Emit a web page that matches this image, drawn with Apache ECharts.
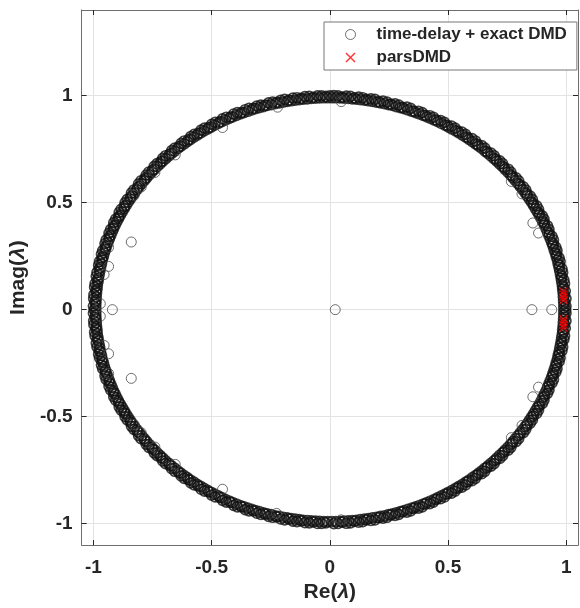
<!DOCTYPE html>
<html><head><meta charset="utf-8">
<script src="https://cdn.jsdelivr.net/npm/echarts@6/dist/echarts.min.js"></script>
<style>html,body{margin:0;padding:0;background:#fff}#c{width:580px;height:608px}</style>
</head><body><div id="c"></div>
<script>
// Tick values
const xTicks = [-1, -0.5, 0, 0.5, 1];
const yTicks = [-1, -0.5, 0, 0.5, 1];

// time-delay + exact DMD eigenvalues [Re, Im] — outer layer of the ring
const ringQ1 = [[0.998,0.000],[0.999,0.017],[0.994,0.035],[0.999,0.052],[0.993,0.069],[0.996,0.087],[0.989,0.104],[0.993,0.122],[0.990,0.139],[0.982,0.155],
[0.985,0.174],[0.982,0.191],[0.972,0.207],[0.974,0.225],[0.970,0.242],[0.960,0.257],[0.961,0.276],[0.956,0.292],[0.945,0.307],[0.946,0.326],
[0.940,0.342],[0.928,0.356],[0.927,0.375],[0.921,0.391],[0.908,0.404],[0.906,0.423],[0.899,0.438],[0.886,0.451],[0.883,0.469],[0.875,0.485],
[0.861,0.497],[0.857,0.515],[0.848,0.530],[0.834,0.542],[0.829,0.559],[0.819,0.574],[0.804,0.584],[0.799,0.602],[0.788,0.616],[0.772,0.625],
[0.766,0.643],[0.755,0.656],[0.738,0.665],[0.731,0.682],[0.719,0.695],[0.703,0.703],[0.695,0.719],[0.682,0.731],[0.665,0.738],[0.656,0.755],
[0.643,0.766],[0.625,0.772],[0.616,0.788],[0.602,0.799],[0.584,0.804],[0.574,0.819],[0.559,0.829],[0.542,0.834],[0.530,0.848],[0.515,0.857],
[0.497,0.861],[0.485,0.875],[0.469,0.883],[0.451,0.886],[0.438,0.899],[0.423,0.906],[0.404,0.908],[0.391,0.921],[0.375,0.927],[0.356,0.928],
[0.342,0.940],[0.326,0.946],[0.307,0.945],[0.292,0.956],[0.276,0.961],[0.257,0.960],[0.242,0.970],[0.225,0.974],[0.207,0.972],[0.191,0.982],
[0.174,0.985],[0.155,0.982],[0.139,0.990],[0.122,0.993],[0.104,0.989],[0.087,0.996],[0.070,0.998],[0.052,0.993],[0.035,0.999],[0.017,1.000]];

const ringQ2 = [[0.000,0.999],[-0.017,0.996],[-0.035,0.999],[-0.052,0.999],[-0.070,0.992],[-0.087,0.996],[-0.105,0.995],[-0.121,0.987],[-0.139,0.990],[-0.156,0.988],
[-0.173,0.979],[-0.191,0.982],[-0.208,0.978],[-0.224,0.968],[-0.242,0.970],[-0.259,0.966],[-0.274,0.955],[-0.292,0.956],[-0.309,0.951],[-0.324,0.940],
[-0.342,0.940],[-0.358,0.934],[-0.373,0.921],[-0.391,0.921],[-0.407,0.914],[-0.420,0.900],[-0.438,0.899],[-0.454,0.891],[-0.466,0.877],[-0.485,0.875],
[-0.500,0.866],[-0.512,0.851],[-0.530,0.848],[-0.545,0.839],[-0.556,0.824],[-0.574,0.819],[-0.588,0.809],[-0.598,0.794],[-0.616,0.788],[-0.629,0.777],
[-0.639,0.761],[-0.656,0.755],[-0.669,0.743],[-0.678,0.727],[-0.695,0.719],[-0.707,0.707],[-0.715,0.691],[-0.731,0.682],[-0.743,0.669],[-0.750,0.652],
[-0.766,0.643],[-0.777,0.629],[-0.783,0.612],[-0.799,0.602],[-0.809,0.588],[-0.814,0.570],[-0.829,0.559],[-0.839,0.545],[-0.843,0.527],[-0.857,0.515],
[-0.866,0.500],[-0.870,0.482],[-0.883,0.469],[-0.891,0.454],[-0.893,0.435],[-0.906,0.423],[-0.914,0.407],[-0.915,0.389],[-0.927,0.375],[-0.934,0.358],
[-0.934,0.340],[-0.946,0.326],[-0.951,0.309],[-0.950,0.290],[-0.961,0.276],[-0.966,0.259],[-0.964,0.241],[-0.974,0.225],[-0.978,0.208],[-0.976,0.190],
[-0.985,0.174],[-0.988,0.156],[-0.984,0.138],[-0.993,0.122],[-0.995,0.105],[-0.990,0.087],[-0.998,0.070],[-0.999,0.052],[-0.993,0.035],[-1.000,0.017],[-0.997,0.000]];

const ringQ3 = [[-0.017,-0.996],[-0.035,-0.999],[-0.052,-0.999],[-0.070,-0.992],[-0.087,-0.996],[-0.105,-0.995],[-0.121,-0.987],[-0.139,-0.990],[-0.156,-0.988],
[-0.173,-0.979],[-0.191,-0.982],[-0.208,-0.978],[-0.224,-0.968],[-0.242,-0.970],[-0.259,-0.966],[-0.274,-0.955],[-0.292,-0.956],[-0.309,-0.951],[-0.324,-0.940],
[-0.342,-0.940],[-0.358,-0.934],[-0.373,-0.921],[-0.391,-0.921],[-0.407,-0.914],[-0.420,-0.900],[-0.438,-0.899],[-0.454,-0.891],[-0.466,-0.877],[-0.485,-0.875],
[-0.500,-0.866],[-0.512,-0.851],[-0.530,-0.848],[-0.545,-0.839],[-0.556,-0.824],[-0.574,-0.819],[-0.588,-0.809],[-0.598,-0.794],[-0.616,-0.788],[-0.629,-0.777],
[-0.639,-0.761],[-0.656,-0.755],[-0.669,-0.743],[-0.678,-0.727],[-0.695,-0.719],[-0.707,-0.707],[-0.715,-0.691],[-0.731,-0.682],[-0.743,-0.669],[-0.750,-0.652],
[-0.766,-0.643],[-0.777,-0.629],[-0.783,-0.612],[-0.799,-0.602],[-0.809,-0.588],[-0.814,-0.570],[-0.829,-0.559],[-0.839,-0.545],[-0.843,-0.527],[-0.857,-0.515],
[-0.866,-0.500],[-0.870,-0.482],[-0.883,-0.469],[-0.891,-0.454],[-0.893,-0.435],[-0.906,-0.423],[-0.914,-0.407],[-0.915,-0.389],[-0.927,-0.375],[-0.934,-0.358],
[-0.934,-0.340],[-0.946,-0.326],[-0.951,-0.309],[-0.950,-0.290],[-0.961,-0.276],[-0.966,-0.259],[-0.964,-0.241],[-0.974,-0.225],[-0.978,-0.208],[-0.976,-0.190],
[-0.985,-0.174],[-0.988,-0.156],[-0.984,-0.138],[-0.993,-0.122],[-0.995,-0.105],[-0.990,-0.087],[-0.998,-0.070],[-0.999,-0.052],[-0.993,-0.035],[-1.000,-0.017]];

const ringQ4 = [[0.999,-0.017],[0.994,-0.035],[0.999,-0.052],[0.993,-0.069],[0.996,-0.087],[0.989,-0.104],[0.993,-0.122],[0.990,-0.139],[0.982,-0.155],
[0.985,-0.174],[0.982,-0.191],[0.972,-0.207],[0.974,-0.225],[0.970,-0.242],[0.960,-0.257],[0.961,-0.276],[0.956,-0.292],[0.945,-0.307],[0.946,-0.326],
[0.940,-0.342],[0.928,-0.356],[0.927,-0.375],[0.921,-0.391],[0.908,-0.404],[0.906,-0.423],[0.899,-0.438],[0.886,-0.451],[0.883,-0.469],[0.875,-0.485],
[0.861,-0.497],[0.857,-0.515],[0.848,-0.530],[0.834,-0.542],[0.829,-0.559],[0.819,-0.574],[0.804,-0.584],[0.799,-0.602],[0.788,-0.616],[0.772,-0.625],
[0.766,-0.643],[0.755,-0.656],[0.738,-0.665],[0.731,-0.682],[0.719,-0.695],[0.703,-0.703],[0.695,-0.719],[0.682,-0.731],[0.665,-0.738],[0.656,-0.755],
[0.643,-0.766],[0.625,-0.772],[0.616,-0.788],[0.602,-0.799],[0.584,-0.804],[0.574,-0.819],[0.559,-0.829],[0.542,-0.834],[0.530,-0.848],[0.515,-0.857],
[0.497,-0.861],[0.485,-0.875],[0.469,-0.883],[0.451,-0.886],[0.438,-0.899],[0.423,-0.906],[0.404,-0.908],[0.391,-0.921],[0.375,-0.927],[0.356,-0.928],
[0.342,-0.940],[0.326,-0.946],[0.307,-0.945],[0.292,-0.956],[0.276,-0.961],[0.257,-0.960],[0.242,-0.970],[0.225,-0.974],[0.207,-0.972],[0.191,-0.982],
[0.174,-0.985],[0.155,-0.982],[0.139,-0.990],[0.122,-0.993],[0.104,-0.989],[0.087,-0.996],[0.070,-0.998],[0.052,-0.993],[0.035,-0.999],[0.017,-1.000]];

// inner layer of the ring
const ring2Q1 = [[0.990,0.009],[0.990,0.026],[0.989,0.043],[0.988,0.060],[0.987,0.078],[0.985,0.095],[0.984,0.112],[0.981,0.129],[0.979,0.146],[0.976,0.163],
[0.973,0.180],[0.970,0.197],[0.966,0.214],[0.963,0.231],[0.958,0.248],[0.954,0.265],[0.949,0.281],[0.944,0.298],[0.939,0.314],[0.933,0.330],
[0.927,0.347],[0.921,0.363],[0.915,0.379],[0.908,0.395],[0.901,0.411],[0.894,0.426],[0.886,0.442],[0.878,0.457],[0.870,0.472],[0.862,0.487],
[0.853,0.502],[0.844,0.517],[0.835,0.532],[0.826,0.546],[0.816,0.561],[0.806,0.575],[0.796,0.589],[0.785,0.603],[0.775,0.616],[0.764,0.630],
[0.753,0.643],[0.741,0.656],[0.730,0.669],[0.718,0.681],[0.706,0.694],[0.694,0.706],[0.681,0.718],[0.669,0.730],[0.656,0.741],[0.643,0.753],
[0.630,0.764],[0.616,0.775],[0.603,0.785],[0.589,0.796],[0.575,0.806],[0.561,0.816],[0.546,0.826],[0.532,0.835],[0.517,0.844],[0.502,0.853],
[0.487,0.862],[0.472,0.870],[0.457,0.878],[0.442,0.886],[0.426,0.894],[0.411,0.901],[0.395,0.908],[0.379,0.915],[0.363,0.921],[0.347,0.927],
[0.330,0.933],[0.314,0.939],[0.298,0.944],[0.281,0.949],[0.265,0.954],[0.248,0.958],[0.231,0.963],[0.214,0.966],[0.197,0.970],[0.180,0.973],
[0.163,0.976],[0.146,0.979],[0.129,0.981],[0.112,0.984],[0.095,0.985],[0.078,0.987],[0.060,0.988],[0.043,0.989],[0.026,0.990],[0.009,0.990]];

const ring2Q2 = [[-0.990,0.009],[-0.990,0.026],[-0.989,0.043],[-0.988,0.060],[-0.987,0.078],[-0.985,0.095],[-0.984,0.112],[-0.981,0.129],[-0.979,0.146],[-0.976,0.163],
[-0.973,0.180],[-0.970,0.197],[-0.966,0.214],[-0.963,0.231],[-0.958,0.248],[-0.954,0.265],[-0.949,0.281],[-0.944,0.298],[-0.939,0.314],[-0.933,0.330],
[-0.927,0.347],[-0.921,0.363],[-0.915,0.379],[-0.908,0.395],[-0.901,0.411],[-0.894,0.426],[-0.886,0.442],[-0.878,0.457],[-0.870,0.472],[-0.862,0.487],
[-0.853,0.502],[-0.844,0.517],[-0.835,0.532],[-0.826,0.546],[-0.816,0.561],[-0.806,0.575],[-0.796,0.589],[-0.785,0.603],[-0.775,0.616],[-0.764,0.630],
[-0.753,0.643],[-0.741,0.656],[-0.730,0.669],[-0.718,0.681],[-0.706,0.694],[-0.694,0.706],[-0.681,0.718],[-0.669,0.730],[-0.656,0.741],[-0.643,0.753],
[-0.630,0.764],[-0.616,0.775],[-0.603,0.785],[-0.589,0.796],[-0.575,0.806],[-0.561,0.816],[-0.546,0.826],[-0.532,0.835],[-0.517,0.844],[-0.502,0.853],
[-0.487,0.862],[-0.472,0.870],[-0.457,0.878],[-0.442,0.886],[-0.426,0.894],[-0.411,0.901],[-0.395,0.908],[-0.379,0.915],[-0.363,0.921],[-0.347,0.927],
[-0.330,0.933],[-0.314,0.939],[-0.298,0.944],[-0.281,0.949],[-0.265,0.954],[-0.248,0.958],[-0.231,0.963],[-0.214,0.966],[-0.197,0.970],[-0.180,0.973],
[-0.163,0.976],[-0.146,0.979],[-0.129,0.981],[-0.112,0.984],[-0.095,0.985],[-0.078,0.987],[-0.060,0.988],[-0.043,0.989],[-0.026,0.990],[-0.009,0.990]];

const ring2Q3 = [[-0.990,-0.009],[-0.990,-0.026],[-0.989,-0.043],[-0.988,-0.060],[-0.987,-0.078],[-0.985,-0.095],[-0.984,-0.112],[-0.981,-0.129],[-0.979,-0.146],[-0.976,-0.163],
[-0.973,-0.180],[-0.970,-0.197],[-0.966,-0.214],[-0.963,-0.231],[-0.958,-0.248],[-0.954,-0.265],[-0.949,-0.281],[-0.944,-0.298],[-0.939,-0.314],[-0.933,-0.330],
[-0.927,-0.347],[-0.921,-0.363],[-0.915,-0.379],[-0.908,-0.395],[-0.901,-0.411],[-0.894,-0.426],[-0.886,-0.442],[-0.878,-0.457],[-0.870,-0.472],[-0.862,-0.487],
[-0.853,-0.502],[-0.844,-0.517],[-0.835,-0.532],[-0.826,-0.546],[-0.816,-0.561],[-0.806,-0.575],[-0.796,-0.589],[-0.785,-0.603],[-0.775,-0.616],[-0.764,-0.630],
[-0.753,-0.643],[-0.741,-0.656],[-0.730,-0.669],[-0.718,-0.681],[-0.706,-0.694],[-0.694,-0.706],[-0.681,-0.718],[-0.669,-0.730],[-0.656,-0.741],[-0.643,-0.753],
[-0.630,-0.764],[-0.616,-0.775],[-0.603,-0.785],[-0.589,-0.796],[-0.575,-0.806],[-0.561,-0.816],[-0.546,-0.826],[-0.532,-0.835],[-0.517,-0.844],[-0.502,-0.853],
[-0.487,-0.862],[-0.472,-0.870],[-0.457,-0.878],[-0.442,-0.886],[-0.426,-0.894],[-0.411,-0.901],[-0.395,-0.908],[-0.379,-0.915],[-0.363,-0.921],[-0.347,-0.927],
[-0.330,-0.933],[-0.314,-0.939],[-0.298,-0.944],[-0.281,-0.949],[-0.265,-0.954],[-0.248,-0.958],[-0.231,-0.963],[-0.214,-0.966],[-0.197,-0.970],[-0.180,-0.973],
[-0.163,-0.976],[-0.146,-0.979],[-0.129,-0.981],[-0.112,-0.984],[-0.095,-0.985],[-0.078,-0.987],[-0.060,-0.988],[-0.043,-0.989],[-0.026,-0.990],[-0.009,-0.990]];

const ring2Q4 = [[0.990,-0.009],[0.990,-0.026],[0.989,-0.043],[0.988,-0.060],[0.987,-0.078],[0.985,-0.095],[0.984,-0.112],[0.981,-0.129],[0.979,-0.146],[0.976,-0.163],
[0.973,-0.180],[0.970,-0.197],[0.966,-0.214],[0.963,-0.231],[0.958,-0.248],[0.954,-0.265],[0.949,-0.281],[0.944,-0.298],[0.939,-0.314],[0.933,-0.330],
[0.927,-0.347],[0.921,-0.363],[0.915,-0.379],[0.908,-0.395],[0.901,-0.411],[0.894,-0.426],[0.886,-0.442],[0.878,-0.457],[0.870,-0.472],[0.862,-0.487],
[0.853,-0.502],[0.844,-0.517],[0.835,-0.532],[0.826,-0.546],[0.816,-0.561],[0.806,-0.575],[0.796,-0.589],[0.785,-0.603],[0.775,-0.616],[0.764,-0.630],
[0.753,-0.643],[0.741,-0.656],[0.730,-0.669],[0.718,-0.681],[0.706,-0.694],[0.694,-0.706],[0.681,-0.718],[0.669,-0.730],[0.656,-0.741],[0.643,-0.753],
[0.630,-0.764],[0.616,-0.775],[0.603,-0.785],[0.589,-0.796],[0.575,-0.806],[0.561,-0.816],[0.546,-0.826],[0.532,-0.835],[0.517,-0.844],[0.502,-0.853],
[0.487,-0.862],[0.472,-0.870],[0.457,-0.878],[0.442,-0.886],[0.426,-0.894],[0.411,-0.901],[0.395,-0.908],[0.379,-0.915],[0.363,-0.921],[0.347,-0.927],
[0.330,-0.933],[0.314,-0.939],[0.298,-0.944],[0.281,-0.949],[0.265,-0.954],[0.248,-0.958],[0.231,-0.963],[0.214,-0.966],[0.197,-0.970],[0.180,-0.973],
[0.163,-0.976],[0.146,-0.979],[0.129,-0.981],[0.112,-0.984],[0.095,-0.985],[0.078,-0.987],[0.060,-0.988],[0.043,-0.989],[0.026,-0.990],[0.009,-0.990]];

// eigenvalues away from the ring
const innerEigs = [[0.023,0.000],[0.855,0.000],[0.939,0.000],
[0.859,0.405],[0.883,0.358],[0.883,-0.362],[0.859,-0.407],[0.768,0.599],[0.813,0.541],[0.813,-0.541],[0.768,-0.598],
[-0.840,0.316],[-0.840,-0.321],[-0.920,0.000],[-0.936,0.202],[-0.955,0.164],[-0.955,-0.167],[-0.936,-0.206],
[-0.971,0.028],[-0.971,-0.031],[-0.936,0.291],[-0.936,-0.298],[-0.828,0.534],[-0.798,0.573],[-0.740,0.641],[-0.654,0.723],
[-0.828,-0.537],[-0.798,-0.575],[-0.740,-0.642],[-0.654,-0.723],[-0.454,0.851],[-0.454,-0.839],
[-0.221,0.946],[0.048,0.972],[-0.225,-0.952],[0.048,-0.982]];

// parsDMD eigenvalues
const parsEigs = [[0.988,0.085],[0.989,0.071],[0.988,0.057],[0.989,0.044],
[0.988,-0.085],[0.989,-0.071],[0.988,-0.057],[0.989,-0.044]];

const seriesNames = ['time-delay + exact DMD', 'parsDMD'];

const FONT = 'Liberation Sans, Arial, sans-serif';
const TXT = '#262626';
const AXC = '#6e6e6e';
const GRIDC = '#e3e3e3';

function xAx(pos, main) {
  return {
    type: 'value', position: pos, min: -1.05, max: 1.05,
    axisLine: {show: true, onZero: false, lineStyle: {color: AXC, width: 1}},
    axisTick: {show: true, inside: true, length: 5, customValues: xTicks, lineStyle: {color: TXT}},
    axisLabel: {show: main, customValues: xTicks, margin: 13, fontFamily: FONT, fontWeight: 'bold', fontSize: 19, color: TXT},
    splitLine: {show: main, lineStyle: {color: GRIDC, width: 1}},
    name: main ? '{a|Re(}{b|λ}{a|)}' : '', nameLocation: 'middle', nameGap: 36,
    nameTextStyle: {rich: {
      a: {fontFamily: FONT, fontWeight: 'bold', fontSize: 21, color: TXT},
      b: {fontFamily: FONT, fontWeight: 'bold', fontStyle: 'italic', fontSize: 21, color: TXT}}}
  };
}
function yAx(pos, main) {
  return {
    type: 'value', position: pos, min: -1.1, max: 1.4,
    axisLine: {show: true, onZero: false, lineStyle: {color: AXC, width: 1}},
    axisTick: {show: true, inside: true, length: 5, customValues: yTicks, lineStyle: {color: TXT}},
    axisLabel: {show: main, customValues: yTicks, margin: 9, fontFamily: FONT, fontWeight: 'bold', fontSize: 19, color: TXT},
    splitLine: {show: main, lineStyle: {color: GRIDC, width: 1}},
    name: main ? '{a|Imag(}{b|λ}{a|)}' : '', nameLocation: 'middle', nameGap: 46,
    nameTextStyle: {rich: {
      a: {fontFamily: FONT, fontWeight: 'bold', fontSize: 21, color: TXT},
      b: {fontFamily: FONT, fontWeight: 'bold', fontStyle: 'italic', fontSize: 21, color: TXT}}}
  };
}

const XPATH = 'path://M0,1L1,0L5,4L9,0L10,1L6,5L10,9L9,10L5,6L1,10L0,9L4,5Z';

const chart = echarts.init(document.getElementById('c'), null, {renderer: 'canvas'});
chart.setOption({
  animation: false,
  backgroundColor: '#ffffff',
  grid: {left: 79, right: 2, top: 10, bottom: 62, containLabel: false},
  xAxis: [xAx('bottom', true), xAx('top', false)],
  yAxis: [yAx('left', true), yAx('right', false)],
  legend: {
    orient: 'vertical', left: 324, top: 22,
    padding: [4, 10, 4, 21], itemGap: 6, itemWidth: 42, itemHeight: 10,
    backgroundColor: '#ffffff', borderColor: '#777777', borderWidth: 1, borderRadius: 0,
    textStyle: {fontFamily: FONT, fontWeight: 'bold', fontSize: 17, color: TXT},
    data: [
      {name: seriesNames[0], icon: 'circle', itemStyle: {color: 'rgba(0,0,0,0)', borderColor: '#4d4d4d', borderWidth: 1}},
      {name: seriesNames[1], icon: XPATH, itemStyle: {color: '#ff0000', borderWidth: 0}}
    ],
    selectedMode: false
  },
  series: [
    {
      name: seriesNames[0], type: 'scatter', symbol: 'circle', symbolSize: 10, symbolKeepAspect: true,
      data: ringQ1.concat(ringQ2, ringQ3, ringQ4, ring2Q1, ring2Q2, ring2Q3, ring2Q4),
      itemStyle: {color: 'rgba(0,0,0,0)', borderColor: '#121212', borderWidth: 1.7},
      emphasis: {disabled: true}, clip: false, large: false
    },
    {
      name: seriesNames[0], type: 'scatter', symbol: 'circle', symbolSize: 10, symbolKeepAspect: true,
      data: innerEigs,
      itemStyle: {color: 'rgba(0,0,0,0)', borderColor: '#4a4a4a', borderWidth: 1},
      emphasis: {disabled: true}, clip: false
    },
    {
      name: seriesNames[1], type: 'scatter', symbol: XPATH, symbolSize: 9, symbolKeepAspect: true,
      data: parsEigs,
      itemStyle: {color: '#ff0000', borderWidth: 0},
      emphasis: {disabled: true}, clip: false, z: 3
    }
  ]
});
</script>
</body></html>
